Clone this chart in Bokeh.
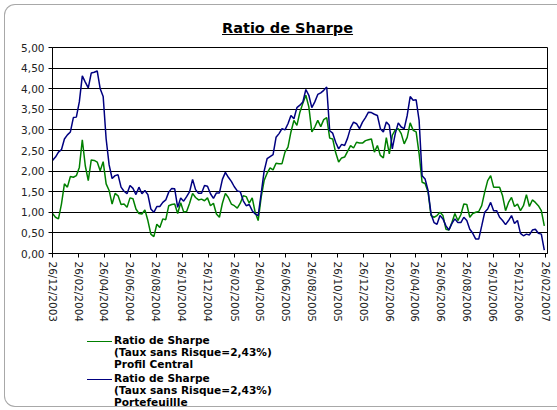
import datetime as dt
from bokeh.plotting import figure
from bokeh.layouts import column
from bokeh.models import (FixedTicker, DatetimeTickFormatter, CustomJSTickFormatter,
                          Range1d, Div)
from bokeh.embed import file_html
from bokeh.resources import INLINE

# ---------------- data (weekly) ----------------
start_date = "26/12/2003"

profil_central = [
    0.97, 0.88, 0.84, 1.20, 1.69, 1.61, 1.87, 1.85, 1.89, 2.09, 2.76, 2.13, 1.77, 2.27, 2.26, 2.22, 2.01,
    2.23, 1.69, 1.53, 1.20, 1.46, 1.40, 1.19, 1.20, 1.12, 1.35, 1.33, 1.08, 0.97, 0.96, 1.06, 0.80, 0.47,
    0.41, 0.71, 0.63, 0.84, 0.82, 1.16, 1.19, 1.20, 0.97, 1.23, 1.01, 1.02, 1.22, 1.46, 1.36, 1.30, 1.32,
    1.28, 1.35, 1.16, 1.22, 0.96, 0.88, 1.22, 1.46, 1.36, 1.20, 1.16, 1.10, 1.22, 1.40, 1.38, 1.22,
    1.35, 1.00, 0.80, 1.36, 1.77, 1.95, 2.08, 2.03, 2.19, 2.18, 2.18, 2.46, 2.58, 2.95, 3.23, 3.11, 3.43,
    3.65, 3.84, 3.56, 2.95, 3.07, 3.23, 3.08, 3.25, 3.30, 2.80, 2.78, 2.45, 2.22, 2.32, 2.34, 2.48, 2.62,
    2.56, 2.70, 2.68, 2.68, 2.74, 2.76, 2.78, 2.46, 2.62, 2.38, 2.32, 2.81, 2.42, 2.87, 3.00, 3.03, 2.91,
    2.66, 2.82, 3.17, 2.99, 2.95, 2.42, 1.73, 1.70, 1.49, 0.92, 0.88, 0.92, 1.00, 0.92, 0.59, 0.57,
    0.75, 0.97, 0.80, 0.94, 1.20, 1.19, 0.88, 0.97, 1.00, 1.02, 1.16, 1.49, 1.77, 1.89, 1.61, 1.61,
    1.61, 1.40, 1.04, 1.24, 1.36, 1.14, 1.20, 1.04, 1.16, 1.43, 1.14, 1.30, 1.24, 1.16, 1.04, 0.67,
]

portefeuille = [
    2.26, 2.34, 2.46, 2.52, 2.78, 2.88, 2.95, 3.30, 3.31, 3.68, 4.31, 4.16, 4.02, 4.38, 4.40, 4.43, 4.00,
    3.81, 2.78, 2.15, 1.82, 1.89, 1.91, 1.61, 1.51, 1.45, 1.65, 1.58, 1.43, 1.61, 1.45, 1.53, 1.43, 1.08,
    1.00, 1.14, 1.14, 1.24, 1.30, 1.49, 1.58, 1.57, 1.12, 1.35, 1.27, 1.38, 1.50, 1.80, 1.55, 1.46, 1.46,
    1.65, 1.63, 1.45, 1.34, 1.47, 1.47, 1.80, 1.97, 1.85, 1.75, 1.62, 1.52, 1.50, 1.28, 1.16, 1.19,
    1.04, 0.96, 0.92, 1.45, 2.00, 2.30, 2.35, 2.40, 2.82, 2.91, 3.03, 3.00, 3.15, 3.35, 3.27, 3.54, 3.60,
    3.68, 3.98, 3.84, 3.54, 3.68, 3.86, 3.90, 3.96, 4.04, 2.98, 2.92, 2.70, 2.54, 2.65, 2.62, 2.80, 3.05,
    3.19, 3.15, 3.03, 3.19, 3.30, 3.43, 3.42, 3.38, 3.35, 3.03, 2.95, 3.19, 3.11, 2.54, 2.91, 3.17, 3.07,
    3.03, 3.35, 3.81, 3.72, 3.73, 3.23, 1.89, 1.81, 1.53, 0.96, 0.75, 0.71, 0.92, 0.84, 0.67, 0.57,
    0.73, 0.84, 0.75, 0.75, 0.88, 0.80, 0.59, 0.49, 0.35, 0.35, 0.67, 1.00, 1.08, 1.24, 1.04, 1.04,
    0.88, 0.80, 0.70, 0.80, 0.92, 0.73, 0.80, 0.49, 0.43, 0.47, 0.45, 0.57, 0.59, 0.49, 0.47, 0.08,
]

x_tick_labels = ["26/12/2003", "26/02/2004", "26/04/2004", "26/06/2004", "26/08/2004",
                 "26/10/2004", "26/12/2004", "26/02/2005", "26/04/2005", "26/06/2005",
                 "26/08/2005", "26/10/2005", "26/12/2005", "26/02/2006", "26/04/2006",
                 "26/06/2006", "26/08/2006", "26/10/2006", "26/12/2006", "26/02/2007"]
y_ticks = [0.0, 0.5, 1.0, 1.5, 2.0, 2.5, 3.0, 3.5, 4.0, 4.5, 5.0]

title_text = "Ratio de Sharpe"
legend_lines_1 = ["Ratio de Sharpe", "(Taux sans Risque=2,43%)", "Profil Central"]
legend_lines_2 = ["Ratio de Sharpe", "(Taux sans Risque=2,43%)", "Portefeuillle"]

# ---------------- helpers ----------------
EPOCH = dt.datetime(1970, 1, 1)


def parse(s):
    return dt.datetime.strptime(s, "%d/%m/%Y")


def to_ms(d):
    return (d - EPOCH).total_seconds() * 1000.0


d0 = parse(start_date)
dates = [d0 + dt.timedelta(days=7 * i) for i in range(len(portefeuille))]
tick_ms = [to_ms(parse(s)) for s in x_tick_labels]

FONT = "DejaVu Sans"
GREEN = "#008000"
NAVY = "#000080"
W = 557

# ---------------- title (with the rounded chart border) ----------------
title_html = (
    '<div style="position:relative;width:%dpx;height:40px;">'
    '<div style="position:absolute;left:4px;top:4px;width:553px;height:403px;box-sizing:border-box;'
    'border:1px solid #a8a8a8;border-right:none;border-radius:11px 0 0 11px;pointer-events:none;"></div>'
    '<div style="position:absolute;left:222px;top:19px;font-family:\'%s\';font-size:14.5px;'
    'font-weight:bold;line-height:18px;color:#000;text-decoration:underline;white-space:nowrap;">%s</div>'
    '</div>' % (W, FONT, title_text)
)
title_div = Div(text=title_html, width=W, height=40, margin=(0, 0, 0, 0))

# ---------------- chart ----------------
p = figure(width=W, height=285, x_axis_type="datetime",
           x_range=Range1d(tick_ms[0], tick_ms[-1] + 4.5 * 86400000.0),
           y_range=Range1d(0, 5), title=None,
           output_backend="svg", toolbar_location=None,
           min_border_left=52, min_border_right=10, min_border_top=7, min_border_bottom=72,
           background_fill_color="white", border_fill_color=None, margin=(0, 0, 0, 0))

p.outline_line_color = "black"
p.outline_line_width = 1

p.xgrid.visible = False
p.ygrid.ticker = FixedTicker(ticks=y_ticks)
p.ygrid.grid_line_color = "black"
p.ygrid.grid_line_width = 1

p.yaxis.ticker = FixedTicker(ticks=y_ticks)
p.yaxis.formatter = CustomJSTickFormatter(code="return tick.toFixed(2).replace('.', ',');")
p.yaxis.major_label_text_font = FONT
p.yaxis.major_label_text_font_size = "10.5px"
p.yaxis.major_label_text_color = "#222222"
p.yaxis.axis_line_color = "black"
p.yaxis.major_tick_line_color = "black"
p.yaxis.major_tick_out = 4
p.yaxis.major_tick_in = 0
p.yaxis.minor_tick_line_color = None
p.yaxis.major_label_standoff = 4

fmt = "%d/%m/%Y"
p.xaxis.ticker = FixedTicker(ticks=tick_ms)
p.xaxis.formatter = DatetimeTickFormatter(milliseconds=fmt, seconds=fmt, minsec=fmt, minutes=fmt,
                                          hourmin=fmt, hours=fmt, days=fmt, months=fmt, years=fmt)
p.xaxis.major_label_orientation = "vertical"
p.xaxis.major_label_text_font = FONT
p.xaxis.major_label_text_font_size = "10.5px"
p.xaxis.major_label_text_color = "#222222"
p.xaxis.axis_line_color = "black"
p.xaxis.major_tick_line_color = "black"
p.xaxis.major_tick_out = 4
p.xaxis.major_tick_in = 0
p.xaxis.minor_tick_line_color = None
p.xaxis.major_label_standoff = 4

p.line(dates, profil_central, line_color=GREEN, line_width=1.5)
p.line(dates, portefeuille, line_color=NAVY, line_width=1.5)

# ---------------- legend ----------------
def block(lines, color, top):
    return (
        '<div style="position:absolute;left:87px;top:%dpx;width:25px;height:0;'
        'border-top:1.5px solid %s;"></div>'
        '<div style="position:absolute;left:114px;top:%dpx;line-height:12px;white-space:nowrap;">%s</div>'
        % (top + 7, color, top, "<br>".join(lines))
    )


legend_html = (
    '<div style="position:relative;width:%dpx;height:85px;font-family:\'%s\';font-size:10.6px;'
    'font-weight:bold;color:#000;">%s%s</div>'
    % (W, FONT, block(legend_lines_1, GREEN, 9), block(legend_lines_2, NAVY, 47))
)
legend_div = Div(text=legend_html, width=W, height=85, margin=(0, 0, 0, 0))

layout = column(title_div, p, legend_div, spacing=0)
open("out.html", "w").write(file_html(layout, INLINE))
